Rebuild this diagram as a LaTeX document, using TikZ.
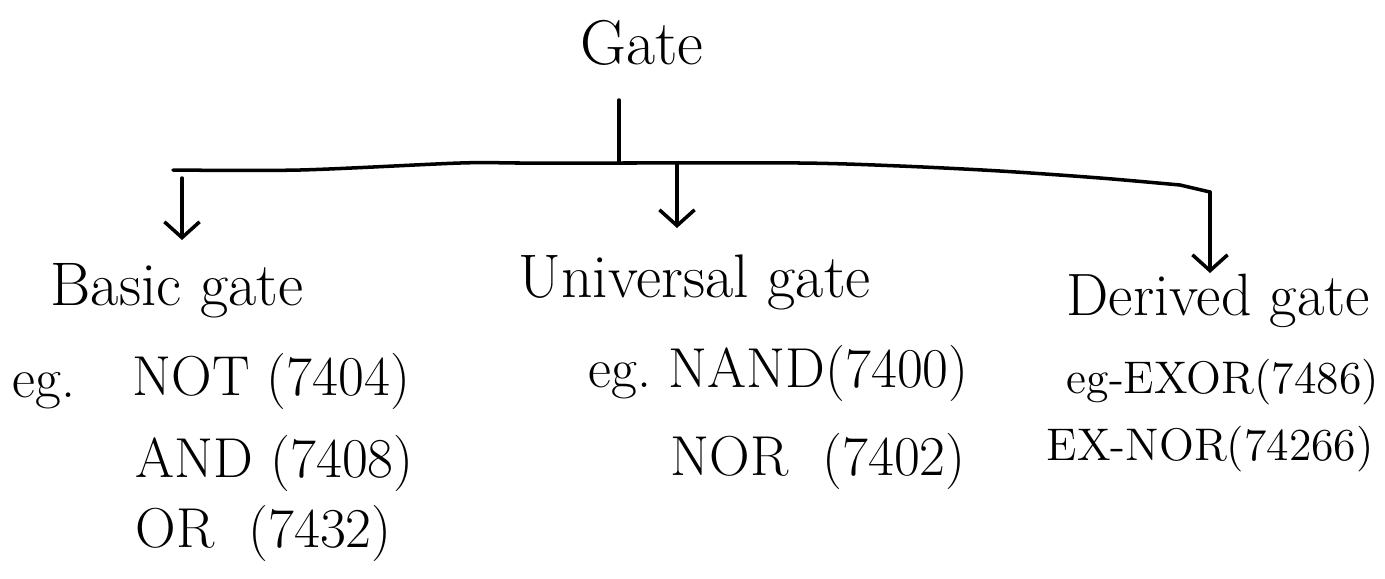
\documentclass[tikz,border=0pt]{standalone}
\usetikzlibrary{arrows.meta}
\begin{document}
\begin{tikzpicture}[x=0.01cm,y=-0.01cm,
  lbl/.style={font=\fontsize{16}{19}\selectfont, inner sep=0pt, anchor=base west},
  small/.style={lbl, font=\fontsize{13}{16}\selectfont},
  cat/.style={lbl, font=\fontsize{17.5}{21}\selectfont},
  wire/.style={line width=1pt, line cap=round, line join=round},
  arr/.style={wire, -{Straight Barb[length=4.5pt,width=10pt,line width=1pt]}}]
\useasboundingbox (0,0) rectangle (1385,578);
\clip (0,0) rectangle (1385,578);
% title
\node[cat, anchor=base, font=\fontsize{18}{21}\selectfont] (gate) at (642,64) {Gate};
% tree bar
\coordinate (stemtop) at (619,100);
\coordinate (j) at (619,163);
\coordinate (bl) at (173,170);
\coordinate (bm) at (677,163);
\coordinate (br) at (1210,192);
\coordinate (sl) at (182,178);
\coordinate (tl) at (182,240);
\coordinate (tm) at (677,228);
\coordinate (tr) at (1210,273);
\draw[wire] (stemtop) -- (j);
\draw[wire] plot[smooth, tension=0.5] coordinates
  {(bl) (300,170) (460,163) (520,163) (j) (800,163) (900,166) (1000,171) (1100,178) (1180,185)}
  -- (br);
\draw[arr] (sl) -- (tl);
\draw[arr] (bm) -- (tm);
\draw[arr] (br) -- (tr);
% categories
\node[cat] (basic) at (50,305) {Basic gate};
\node[cat] (univ) at (518,297) {Universal gate};
\node[cat, font=\fontsize{17}{20}\selectfont] (der) at (1066,315) {Derived gate};
% examples: basic
\node[lbl] (eg1) at (12,397) {eg.};
\node[lbl] (not) at (132,395) {NOT (7404)};
\node[lbl] (and) at (135,477) {AND (7408)};
\node[lbl] (or) at (135,547) {OR\ \ (7432)};
% examples: universal
\node[lbl] (eg2) at (588,387) {eg.};
\node[lbl] (nand) at (668,387) {NAND(7400)};
\node[lbl] (nor) at (670,475) {NOR\ \ (7402)};
% examples: derived
\node[small] (exor) at (1066,393) {eg-EXOR(7486)};
\node[small] (exnor) at (1046,460) {EX-NOR(74266)};
\end{tikzpicture}
\end{document}
